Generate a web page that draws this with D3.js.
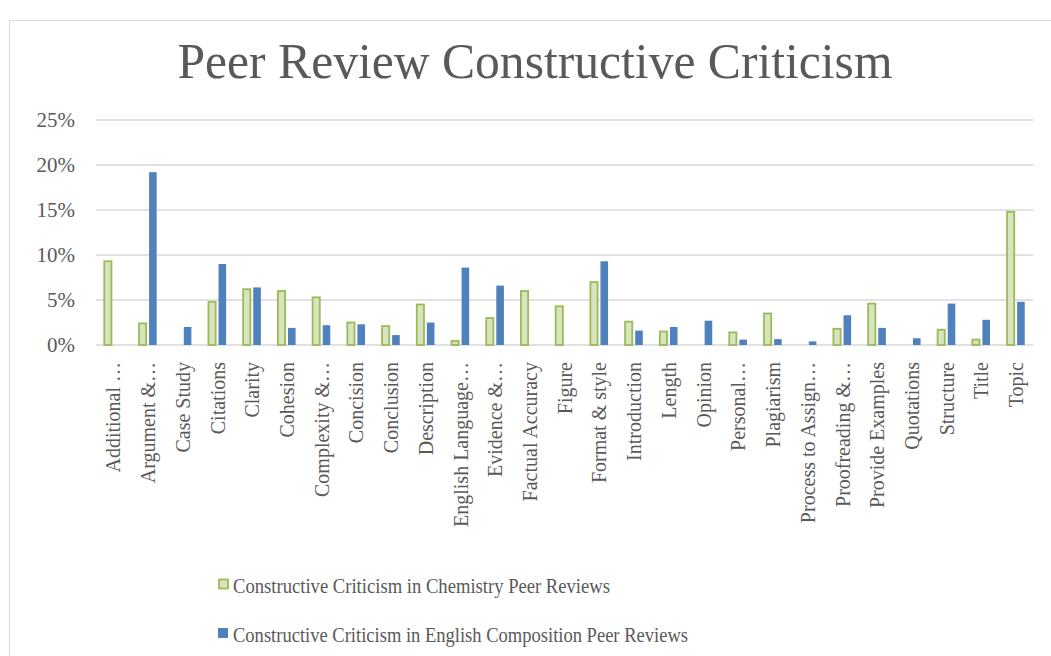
<!DOCTYPE html>
<html>
<head>
<meta charset="utf-8">
<script src="https://cdn.jsdelivr.net/npm/d3@7"></script>
<style>
  body { margin: 0; background: #fff; }
  svg text { font-family: "Liberation Serif", "DejaVu Serif", serif; fill: #595959; }
</style>
</head>
<body>
<svg id="chart" width="1051" height="656"></svg>
<script>
var categories = ["Additional …", "Argument &…", "Case Study", "Citations", "Clarity", "Cohesion",
  "Complexity &…", "Concision", "Conclusion", "Description", "English Language…", "Evidence &…",
  "Factual Accuracy", "Figure", "Format & style", "Introduction", "Length", "Opinion", "Personal…",
  "Plagiarism", "Process to Assign…", "Proofreading &…", "Provide Examples", "Quotations",
  "Structure", "Title", "Topic"]

var chemistry = [9.4, 2.5, 0, 4.9, 6.3, 6.1, 5.4, 2.6, 2.2, 4.6, 0.55, 3.1, 6.1, 4.4, 7.1, 2.7,
  1.6, 0, 1.5, 3.6, 0, 1.9, 4.7, 0, 1.8, 0.7, 14.9]
var english = [0, 19.2, 2.0, 9.0, 6.4, 1.9, 2.2, 2.3, 1.1, 2.5, 8.6, 6.6, 0, 0, 9.3, 1.6,
  2.0, 2.7, 0.6, 0.65, 0.4, 3.3, 1.9, 0.75, 4.6, 2.8, 4.8]

var seriesNames = ["Constructive Criticism in Chemistry Peer Reviews",
  "Constructive Criticism in English Composition Peer Reviews"]
var yTicks = [0, 5, 10, 15, 20, 25]

var svg = d3.select("#chart")
var plotLeft = 96, plotRight = 1033.5, plotTop = 120, plotBottom = 345

// outer chart border
svg.append("rect")
  .attr("x", 9.5).attr("y", 20.5)
  .attr("width", 1100).attr("height", 700)
  .attr("fill", "none").attr("stroke", "#d9d9d9")

svg.append("text")
  .attr("x", 535).attr("y", 78)
  .attr("text-anchor", "middle")
  .attr("font-size", 50)
  .attr("textLength", 715)
  .attr("lengthAdjust", "spacingAndGlyphs")
  .text("Peer Review Constructive Criticism")

var x = d3.scaleBand()
  .domain(categories)
  .range([plotLeft, plotRight])

var y = d3.scaleLinear()
  .domain([0, 25])
  .range([plotBottom, plotTop])

var grid = svg.append("g")
grid.selectAll("line")
  .data(yTicks)
  .enter()
  .append("line")
  .attr("x1", plotLeft).attr("x2", plotRight)
  .attr("y1", function(d) { return y(d) })
  .attr("y2", function(d) { return y(d) })
  .attr("stroke", "#d9d9d9")
  .attr("stroke-width", 1.5)

var yAxis = svg.append("g")
  .attr("transform", "translate(" + plotLeft + ",0)")
  .call(d3.axisLeft(y).tickValues(yTicks).tickSize(0).tickPadding(21)
    .tickFormat(function(d) { return d + "%" }))
yAxis.select(".domain").remove()
yAxis.selectAll("text")
  .attr("font-size", 21)
  .attr("font-family", "Liberation Serif")
  .attr("fill", "#595959")

var chart = svg.append("g")

// chemistry bars (outlined green), left of the category centre
chart.selectAll("rect.chem")
  .data(chemistry)
  .enter()
  .append("rect")
  .attr("class", "chem")
  .attr("x", function(d, i) { return x(categories[i]) + x.bandwidth() / 2 - 9.1 })
  .attr("y", function(d) { return y(d) + 0.9 })
  .attr("width", 7.2)
  .attr("height", function(d) { return Math.max(0, y(0) - y(d) - 0.9) })
  .attr("fill", "#d7e4bd")
  .attr("stroke", "#9bbb59")
  .attr("stroke-width", function(d) { return d > 0 ? 1.8 : 0 })

// english bars (solid blue), right of the centre
chart.selectAll("rect.eng")
  .data(english)
  .enter()
  .append("rect")
  .attr("class", "eng")
  .attr("x", function(d, i) { return x(categories[i]) + x.bandwidth() / 2 + 1 })
  .attr("y", function(d) { return y(d) })
  .attr("width", 7.6)
  .attr("height", function(d) { return y(0) - y(d) })
  .attr("fill", "#4f81bd")

var xAxis = svg.append("g")
  .attr("transform", "translate(0," + plotBottom + ")")
  .call(d3.axisBottom(x).tickSize(0).tickPadding(0))
xAxis.select(".domain").remove()
xAxis.selectAll("text")
  .attr("font-size", 20)
  .attr("font-family", "Liberation Serif")
  .attr("fill", "#595959")
  .attr("text-anchor", "end")
  .attr("dy", "0.35em")
  .attr("transform", "translate(0,17) rotate(-90)")
  .attr("x", 0).attr("y", 0)

// legend
var legend = svg.append("g")
seriesNames.forEach(function(name, i) {
  var ly = 579 + i * 49
  if (i === 0) {
    legend.append("rect")
      .attr("x", 219).attr("y", ly + 0.5)
      .attr("width", 9).attr("height", 9)
      .attr("fill", "#d7e4bd").attr("stroke", "#9bbb59").attr("stroke-width", 1.8)
  } else {
    legend.append("rect")
      .attr("x", 218).attr("y", ly)
      .attr("width", 10).attr("height", 10)
      .attr("fill", "#4f81bd")
  }
  legend.append("text")
    .attr("x", 233).attr("y", ly + 14)
    .attr("font-size", 22)
    .attr("textLength", i === 0 ? 377 : 455)
    .attr("lengthAdjust", "spacingAndGlyphs")
    .text(name)
})
</script>
</body>
</html>
